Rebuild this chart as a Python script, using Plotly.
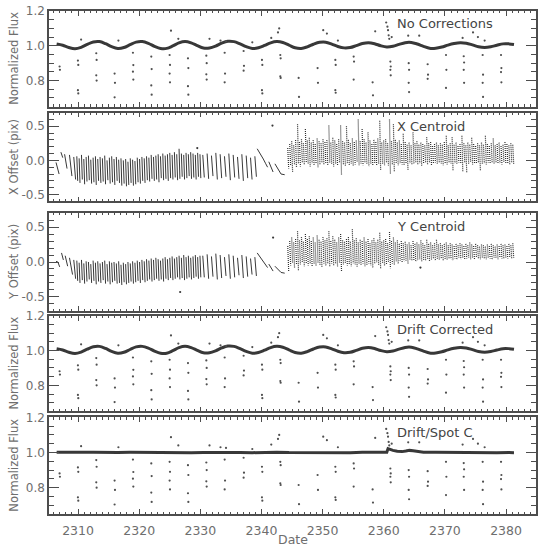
import plotly.graph_objects as go

# ------------------------------------------------------------------ data
# smooth light-curve band (no corrections / drift corrected), 1-day samples
flux_t = [2306.5 + k for k in range(75)] + [2381.3]
flux_raw = [1.010, 1.003, 0.990, 0.983, 0.991, 1.008, 1.022, 1.024, 1.012, 0.995,
            0.985, 0.990, 1.006, 1.021, 1.024, 1.014, 0.997, 0.985, 0.985, 0.999,
            1.017, 1.025, 1.017, 1.001, 0.987, 0.987, 0.998, 1.015, 1.026, 1.024,
            1.011, 0.995, 0.985, 0.989, 1.002, 1.017, 1.024, 1.019, 1.004, 0.989,
            0.985, 0.994, 1.009, 1.020, 1.021, 1.010, 0.996, 0.988, 0.990, 1.001,
            1.013, 1.018, 1.012, 1.000, 0.993, 0.997, 1.008, 1.018, 1.019, 1.010,
            0.997, 0.986, 0.986, 0.993, 1.004, 1.013, 1.018, 1.015, 1.005, 0.994,
            0.990, 0.994, 1.003, 1.011, 1.011, 1.008]
flux_drift = [1.010, 1.003, 0.990, 0.983, 0.991, 1.008, 1.022, 1.024, 1.012, 0.995,
              0.985, 0.990, 1.006, 1.021, 1.024, 1.014, 0.997, 0.985, 0.985, 0.999,
              1.017, 1.025, 1.017, 1.001, 0.987, 0.987, 0.998, 1.015, 1.026, 1.024,
              1.011, 0.995, 0.985, 0.989, 1.002, 1.017, 1.024, 1.019, 1.004, 0.989,
              0.985, 0.994, 1.009, 1.020, 1.021, 1.010, 0.996, 0.988, 0.990, 1.001,
              1.013, 1.018, 1.012, 1.000, 0.993, 0.997, 1.008, 1.018, 1.019, 1.010,
              0.997, 0.986, 0.986, 0.993, 1.004, 1.013, 1.018, 1.015, 1.005, 0.994,
              0.990, 0.994, 1.003, 1.011, 1.011, 1.008]

# drift + spot corrected band
spot_t = [2306.5, 2308.5, 2310.5, 2312.5, 2314.5, 2316.5, 2318.5, 2320.5, 2322.5, 2324.5,
          2326.5, 2328.5, 2330.5, 2332.5, 2334.5, 2336.5, 2338.5, 2340.5, 2342.5, 2344.5,
          2346.5, 2348.5, 2350.5, 2352.5, 2354.5, 2356.5, 2358.5, 2359.8, 2360.5, 2360.7,
          2361.0, 2361.5, 2362.2, 2363.0, 2363.6, 2364.2, 2364.8, 2365.6, 2366.5, 2368.5,
          2370.5, 2372.5, 2374.5, 2376.5, 2378.5, 2380.5, 2381.3]
spot_f = [1.002, 1.000, 1.001, 1.002, 0.999, 1.000, 1.001, 1.000, 0.999, 1.001,
          1.000, 0.999, 1.000, 1.001, 1.002, 1.000, 0.999, 1.001, 1.002, 1.000,
          0.999, 1.000, 1.001, 1.000, 0.999, 1.001, 1.002, 1.003, 1.001, 1.022,
          1.018, 1.012, 1.007, 1.005, 1.008, 1.012, 1.010, 1.005, 1.002, 1.001,
          1.000, 1.002, 1.001, 1.000, 0.999, 1.000, 0.999]

# low outliers, grouped in columns (same points in every flux panel)
low_t = [2307.0, 2310.0, 2313.0, 2316.0, 2319.0, 2322.0, 2325.0, 2328.0, 2331.0, 2334.0,
         2337.1, 2340.1, 2343.1, 2346.1, 2349.2, 2352.1, 2355.1, 2358.2, 2361.1, 2364.1,
         2367.2, 2370.2, 2373.1, 2376.2, 2379.2]
low_f = [[0.881, 0.862], [0.915, 0.890, 0.745, 0.726], [0.957, 0.919, 0.830, 0.800],
         [0.840, 0.787, 0.704], [0.960, 0.889, 0.851, 0.806], [0.938, 0.866, 0.772, 0.719],
         [0.947, 0.890, 0.840, 0.790], [0.928, 0.872, 0.768, 0.719], [0.943, 0.900, 0.836, 0.806],
         [0.960, 0.840, 0.790], [0.970, 0.885, 0.857], [0.919, 0.890, 0.745, 0.726],
         [0.947, 0.928, 0.825, 0.815], [0.815, 0.706], [0.872, 0.787],
         [0.919, 0.890, 0.745, 0.730], [0.938, 0.909, 0.806], [0.790, 0.715],
         [0.909, 0.881, 0.862, 0.830], [0.900, 0.862, 0.787, 0.734], [0.894, 0.834, 0.810],
         [0.947, 0.862, 0.758], [0.940, 0.904, 0.862, 0.787], [0.947, 0.834, 0.787, 0.706],
         [0.947, 0.872, 0.849, 0.790]]
# high outliers
high_t = [2310.5, 2316.6, 2325.2, 2326.4, 2331.5, 2333.3, 2334.2, 2338.5, 2341.6, 2342.7,
          2342.9, 2350.1, 2350.7, 2352.5, 2358.6, 2360.4, 2360.6, 2360.7, 2360.8, 2360.9,
          2361.3, 2364.0, 2365.8, 2372.9, 2374.6, 2375.4, 2376.5]
high_f = [1.036, 1.030, 1.087, 1.040, 1.040, 1.030, 1.026, 1.020, 1.045, 1.077,
          1.100, 1.090, 1.070, 1.030, 1.083, 1.134, 1.110, 1.090, 1.060, 1.040,
          1.050, 1.058, 1.058, 1.045, 1.077, 1.050, 1.030]

# ---- X centroid ----
# early hand-picked drift segments: (t0, y0, t1, y1)
xc_early = [(2306.4, -0.03, 2306.9, -0.20), (2307.2, 0.12, 2307.5, 0.04),
            (2307.8, 0.09, 2308.2, -0.12), (2308.6, 0.08, 2309.0, -0.23),
            (2309.3, 0.05, 2309.6, -0.28)]
dense_start, dense_step = 2309.8, 0.38
xc_top1 = [0.06, 0.03, 0.08, 0.02, 0.05, 0.07, 0.01, 0.04, 0.06, 0.02,
           0.05, 0.03, 0.07, 0.00, 0.04, 0.06, 0.02, 0.05, 0.01, 0.03,
           0.00, 0.02, -0.02, 0.03, 0.01, -0.01, 0.04, 0.02, 0.05, 0.03,
           0.06, 0.04, 0.08, 0.05, 0.07, 0.09, 0.06, 0.10, 0.07, 0.09,
           0.11, 0.08, 0.12, 0.09, 0.17, 0.10, 0.08, 0.11, 0.09, 0.12,
           0.10, 0.08, 0.11, 0.09]
xc_bot1 = [-0.30, -0.33, -0.28, -0.35, -0.31, -0.29, -0.34, -0.32, -0.36, -0.30,
           -0.33, -0.31, -0.35, -0.29, -0.34, -0.32, -0.36, -0.30, -0.33, -0.37,
           -0.34, -0.38, -0.36, -0.33, -0.37, -0.35, -0.32, -0.34, -0.30, -0.33,
           -0.29, -0.31, -0.27, -0.30, -0.28, -0.32, -0.26, -0.29, -0.27, -0.30,
           -0.26, -0.28, -0.25, -0.29, -0.27, -0.24, -0.28, -0.26, -0.23, -0.27,
           -0.25, -0.28, -0.24, -0.26]
sparse_start, sparse_step = 2330.4, 0.71
xc_top2 = [0.08, 0.10, 0.07, 0.11, 0.09, 0.06, 0.10, 0.08, 0.05, 0.09, 0.07, 0.04, 0.06]
xc_bot2 = [-0.25, -0.27, -0.23, -0.28, -0.26, -0.24, -0.29, -0.25, -0.27, -0.30, -0.26, -0.28, -0.24]
xc_curves = [[(2339.3, 0.17), (2339.8, 0.10), (2340.3, 0.02), (2340.7, -0.05), (2341.0, -0.10)],
             [(2341.2, -0.02), (2341.5, -0.08), (2341.9, -0.17)],
             [(2342.2, -0.05), (2342.7, -0.13), (2343.2, -0.20), (2343.8, -0.21)]]
late_start, late_step = 2344.3, 0.32
xc_top3 = [0.18, 0.24, 0.28, 0.22, 0.30, 0.53, 0.27, 0.31, 0.25, 0.46,
           0.29, 0.33, 0.26, 0.30, 0.24, 0.32, 0.28, 0.25, 0.31, 0.27,
           0.30, 0.51, 0.26, 0.33, 0.29, 0.24, 0.31, 0.51, 0.28, 0.26,
           0.50, 0.30, 0.25, 0.32, 0.27, 0.29, 0.60, 0.28, 0.46, 0.31,
           0.26, 0.41, 0.29, 0.24, 0.30, 0.27, 0.32, 0.58, 0.26, 0.29,
           0.31, 0.25, 0.60, 0.28, 0.53, 0.30, 0.26, 0.29, 0.24, 0.39,
           0.27, 0.23, 0.26, 0.22, 0.41, 0.25, 0.28, 0.23, 0.26, 0.24,
           0.22, 0.34, 0.25, 0.27, 0.21, 0.24, 0.26, 0.22, 0.25, 0.23,
           0.27, 0.36, 0.22, 0.25, 0.34, 0.23, 0.26, 0.21, 0.24, 0.36,
           0.25, 0.22, 0.26, 0.23, 0.33, 0.24, 0.21, 0.25, 0.22, 0.26,
           0.23, 0.36, 0.24, 0.21, 0.25, 0.32, 0.22, 0.24, 0.26, 0.21,
           0.23, 0.27, 0.24, 0.22, 0.25, 0.23]
xc_bot3 = [-0.12, -0.08, -0.17, -0.06, -0.10, -0.05, -0.09, -0.04, -0.07, -0.03,
           -0.06, -0.09, -0.04, -0.08, -0.05, -0.10, -0.06, -0.03, -0.07, -0.05,
           -0.08, -0.04, -0.06, -0.09, -0.05, -0.07, -0.03, -0.22, -0.06, -0.08,
           -0.04, -0.07, -0.05, -0.09, -0.06, -0.03, -0.08, -0.05, -0.07, -0.04,
           -0.06, -0.09, -0.05, -0.07, -0.04, -0.08, -0.06, -0.15, -0.05, -0.07,
           -0.04, -0.08, -0.20, -0.06, -0.17, -0.05, -0.07, -0.04, -0.06, -0.08,
           -0.05, -0.15, -0.04, -0.07, -0.05, -0.03, -0.06, -0.04, -0.08, -0.05,
           -0.03, -0.06, -0.04, -0.07, -0.05, -0.03, -0.06, -0.04, -0.05, -0.07,
           -0.04, -0.06, -0.03, -0.05, -0.15, -0.04, -0.06, -0.03, -0.05, -0.17,
           -0.04, -0.18, -0.05, -0.03, -0.06, -0.04, -0.05, -0.03, -0.15, -0.05,
           -0.04, -0.06, -0.03, -0.05, -0.04, -0.06, -0.03, -0.05, -0.04, -0.06,
           -0.03, -0.05, -0.04, -0.06, -0.03, -0.05]
xc_dots_t = [2341.8, 2329.5]
xc_dots_y = [0.51, 0.18]

# ---- Y centroid ----
yc_early = [(2306.4, 0.01, 2306.7, 0.00), (2306.7, 0.00, 2307.0, -0.07),
            (2307.3, 0.13, 2307.6, 0.03), (2307.9, 0.09, 2308.3, -0.06),
            (2308.6, 0.06, 2309.1, -0.18), (2309.3, 0.03, 2309.6, -0.24)]
yc_top1 = [0.02, -0.01, 0.03, -0.02, 0.01, 0.00, -0.03, 0.02, -0.01, 0.01,
           -0.02, 0.00, 0.02, -0.03, 0.01, -0.01, 0.00, -0.02, 0.01, -0.04,
           -0.01, -0.03, 0.00, -0.02, 0.01, -0.01, 0.02, 0.00, 0.03, 0.01,
           0.04, 0.02, 0.05, 0.03, 0.06, 0.04, 0.02, 0.05, 0.07, 0.04,
           0.06, 0.08, 0.05, 0.07, 0.09, 0.06, 0.10, 0.07, 0.09, 0.06,
           0.08, 0.10, 0.07, 0.09]
yc_bot1 = [-0.27, -0.30, -0.26, -0.31, -0.28, -0.25, -0.30, -0.27, -0.32, -0.28,
           -0.30, -0.26, -0.31, -0.28, -0.32, -0.29, -0.27, -0.31, -0.30, -0.33,
           -0.29, -0.32, -0.30, -0.28, -0.31, -0.29, -0.27, -0.30, -0.26, -0.29,
           -0.27, -0.25, -0.28, -0.26, -0.24, -0.27, -0.25, -0.28, -0.24, -0.26,
           -0.23, -0.26, -0.24, -0.22, -0.25, -0.23, -0.26, -0.24, -0.22, -0.25,
           -0.23, -0.21, -0.24, -0.22]
yc_top2 = [0.09, 0.11, 0.08, 0.12, 0.10, 0.07, 0.11, 0.09, 0.06, 0.10, 0.08, 0.05, 0.07]
yc_bot2 = [-0.22, -0.24, -0.21, -0.25, -0.23, -0.20, -0.24, -0.22, -0.19, -0.23, -0.21, -0.18, -0.20]
yc_curves = [[(2339.3, 0.13), (2339.8, 0.07), (2340.3, 0.01), (2340.7, -0.04), (2341.0, -0.08)],
             [(2341.2, -0.03), (2341.5, -0.08), (2341.9, -0.13)],
             [(2342.2, -0.06), (2342.7, -0.11), (2343.2, -0.15), (2343.8, -0.16)]]
yc_top3 = [0.23, 0.30, 0.35, 0.28, 0.33, 0.44, 0.31, 0.36, 0.29, 0.40,
           0.33, 0.37, 0.30, 0.35, 0.28, 0.38, 0.32, 0.29, 0.36, 0.31,
           0.34, 0.44, 0.30, 0.37, 0.32, 0.28, 0.35, 0.40, 0.31, 0.29,
           0.33, 0.36, 0.29, 0.47, 0.31, 0.34, 0.28, 0.32, 0.30, 0.35,
           0.29, 0.33, 0.27, 0.31, 0.34, 0.28, 0.32, 0.42, 0.29, 0.31,
           0.33, 0.27, 0.43, 0.30, 0.35, 0.28, 0.31, 0.26, 0.30, 0.27,
           0.29, 0.25, 0.28, 0.24, 0.30, 0.26, 0.28, 0.25, 0.31, 0.27,
           0.24, 0.32, 0.26, 0.28, 0.24, 0.27, 0.32, 0.25, 0.27, 0.24,
           0.26, 0.28, 0.24, 0.27, 0.25, 0.23, 0.26, 0.24, 0.27, 0.25,
           0.23, 0.26, 0.24, 0.28, 0.25, 0.23, 0.26, 0.24, 0.22, 0.25,
           0.24, 0.22, 0.25, 0.23, 0.26, 0.24, 0.22, 0.25, 0.23, 0.26,
           0.24, 0.25, 0.23, 0.26, 0.24, 0.27]
yc_bot3 = [-0.13, -0.05, -0.02, -0.08, -0.03, -0.13, -0.04, -0.01, -0.06, -0.03,
           -0.05, -0.02, -0.07, -0.03, -0.06, -0.01, -0.04, -0.08, -0.02, -0.05,
           -0.03, -0.06, -0.02, -0.05, -0.03, -0.07, -0.01, -0.13, -0.04, -0.02,
           -0.05, -0.03, -0.06, -0.02, -0.04, -0.07, -0.03, -0.05, -0.02, -0.06,
           -0.04, -0.02, -0.05, -0.08, -0.03, -0.01, -0.04, -0.10, -0.02, -0.05,
           -0.03, 0.00, -0.09, -0.02, -0.04, 0.01, -0.02, 0.02, -0.01, 0.01,
           0.02, -0.02, 0.03, 0.01, 0.03, 0.00, 0.02, 0.04, 0.01, 0.03,
           0.02, 0.04, 0.01, 0.03, 0.05, 0.02, 0.04, 0.03, 0.05, 0.02,
           0.04, 0.03, 0.05, 0.04, 0.02, 0.05, 0.03, 0.06, 0.04, 0.05,
           0.03, 0.05, 0.06, 0.04, 0.05, 0.03, 0.06, 0.05, 0.04, 0.06,
           0.05, 0.04, 0.06, 0.05, 0.03, 0.06, 0.05, 0.04, 0.06, 0.05,
           0.04, 0.06, 0.05, 0.07, 0.05, 0.06]
yc_dots_t = [2326.7, 2341.9, 2366.0]
yc_dots_y = [-0.43, 0.35, -0.08]

panel_labels = ["No Corrections", "X Centroid", "Y Centroid", "Drift Corrected", "Drift/Spot C"]
y_titles = ["Normalized Flux", "X Offset (pix)", "Y Offset (pix)", "Normalized Flux", "Normalized Flux"]
x_ticks = [2310, 2320, 2330, 2340, 2350, 2360, 2370, 2380]

# ------------------------------------------------------------------ helpers
INK = "#383838"
FRAME = "#4d4d4d"
TXT = "#6e6e6e"
FONT = "DejaVu Sans"


def seg_xy(early, tops1, bots1, tops2, bots2, curves, tops3, bots3):
    xs, ys = [], []
    for t0, y0, t1, y1 in early:
        xs += [t0, t1, None]
        ys += [y0, y1, None]
    for i, (a, b) in enumerate(zip(tops1, bots1)):
        t = dense_start + i * dense_step
        xs += [t, t + 0.14, None]
        ys += [a, b, None]
    for i, (a, b) in enumerate(zip(tops2, bots2)):
        t = sparse_start + i * sparse_step
        xs += [t, t + 0.25, None]
        ys += [a, b, None]
    for c in curves:
        xs += [p[0] for p in c] + [None]
        ys += [p[1] for p in c] + [None]
    lx, ly = [], []
    for i, (a, b) in enumerate(zip(tops3, bots3)):
        t = late_start + i * late_step
        lx += [t, t + 0.15, None]
        ly += [a, b, None]
    return xs, ys, lx, ly


low_x, low_y = [], []
for t, col in zip(low_t, low_f):
    for j, v in enumerate(col):
        low_x.append(t + (0.04 if j % 2 else -0.02))
        low_y.append(v)

fig = go.Figure()


def add_flux(ax, t, f, shape):
    xa, ya = ("x" if ax == 1 else f"x{ax}"), ("y" if ax == 1 else f"y{ax}")
    fig.add_trace(go.Scatter(x=t, y=f, mode="lines", line=dict(color=INK, width=3.0, shape=shape),
                             xaxis=xa, yaxis=ya, hoverinfo="skip"))
    fig.add_trace(go.Scatter(x=low_x + high_t, y=low_y + high_f, mode="markers",
                             marker=dict(color="#505050", size=2.2), xaxis=xa, yaxis=ya, hoverinfo="skip"))


def add_centroid(ax, data, dots_t, dots_y):
    xa, ya = f"x{ax}", f"y{ax}"
    xs, ys, lx, ly = seg_xy(*data)
    fig.add_trace(go.Scatter(x=xs, y=ys, mode="lines", line=dict(color=INK, width=1.0),
                             connectgaps=False, xaxis=xa, yaxis=ya, hoverinfo="skip"))
    fig.add_trace(go.Scatter(x=lx, y=ly, mode="lines", line=dict(color="#303030", width=1.2, dash="1px,1px"),
                             connectgaps=False, xaxis=xa, yaxis=ya, hoverinfo="skip"))
    fig.add_trace(go.Scatter(x=dots_t, y=dots_y, mode="markers", marker=dict(color=INK, size=2.2),
                             xaxis=xa, yaxis=ya, hoverinfo="skip"))


add_flux(1, flux_t, flux_raw, "spline")
add_centroid(2, (xc_early, xc_top1, xc_bot1, xc_top2, xc_bot2, xc_curves, xc_top3, xc_bot3),
             xc_dots_t, xc_dots_y)
add_centroid(3, (yc_early, yc_top1, yc_bot1, yc_top2, yc_bot2, yc_curves, yc_top3, yc_bot3),
             yc_dots_t, yc_dots_y)
add_flux(4, flux_t, flux_drift, "spline")
add_flux(5, spot_t, spot_f, "linear")

# ------------------------------------------------------------------ layout
W, Hh = 542, 546
L, R, TOP, BOT = 49, 6, 4, 32
PH = Hh - TOP - BOT
panels = [(4, 101), (107, 197), (209, 308), (313, 410), (416, 514)]
doms = [[(Hh - BOT - b) / PH, (Hh - BOT - t) / PH] for t, b in panels]
yranges = [[0.65, 1.2], [-0.6, 0.7], [-0.7, 0.7], [0.65, 1.2], [0.65, 1.2]]

layout = dict(width=W, height=Hh, margin=dict(l=L, r=R, t=TOP, b=BOT),
              paper_bgcolor="white", plot_bgcolor="white", showlegend=False,
              font=dict(family=FONT, color=TXT, size=12))
annotations = []
for i in range(5):
    k = "" if i == 0 else str(i + 1)
    flux = i in (0, 3, 4)
    layout["xaxis" + k] = dict(
        domain=[0, 1], range=[2305.25, 2384.9], anchor="y" + k,
        showline=True, mirror="ticks", linecolor=FRAME, linewidth=1.5,
        ticks="inside", ticklen=5, tickwidth=1, tickcolor=FRAME,
        tickvals=x_ticks, ticktext=[str(v) for v in x_ticks],
        minor=dict(dtick=1, tick0=2305, ticklen=2.5, ticks="inside", tickcolor=FRAME, tickwidth=1),
        showgrid=False, zeroline=False, showticklabels=(i == 4),
        tickfont=dict(family=FONT, size=12.5, color=TXT), ticklabelstandoff=4,
        **({} if i == 0 else dict(matches="x")))
    layout["yaxis" + k] = dict(
        domain=doms[i], range=yranges[i], anchor="x" + k,
        showline=True, mirror="ticks", linecolor=FRAME, linewidth=1.5,
        ticks="inside", ticklen=10, tickwidth=1, tickcolor=FRAME,
        tickvals=[0.8, 1.0, 1.2] if flux else [-0.5, 0.0, 0.5],
        ticktext=["0.8", "1.0", "1.2"] if flux else ["-0.5", "0.0", "0.5"],
        minor=dict(dtick=0.05 if flux else 0.1, tick0=0, ticklen=5, ticks="inside",
                   tickcolor=FRAME, tickwidth=1),
        showgrid=False, zeroline=False,
        tickfont=dict(family=FONT, size=12, color=TXT))
    ymid = (doms[i][0] + doms[i][1]) / 2
    annotations.append(dict(text=y_titles[i], xref="paper", yref="paper", x=(14 - L) / (W - L - R),
                            y=ymid, xanchor="center", yanchor="middle", textangle=-90, showarrow=False,
                            font=dict(family=FONT, size=11.5, color=TXT)))
    label_y = [17, 121, 223, 327, 431][i]
    annotations.append(dict(text=panel_labels[i], xref="paper", yref="paper",
                            x=(395 - L) / (W - L - R), y=(Hh - BOT - label_y) / PH,
                            xanchor="left", yanchor="middle", showarrow=False,
                            font=dict(family=FONT, size=13, color="#444444")))
annotations.append(dict(text="Date", xref="paper", yref="paper", x=0.5, y=(Hh - BOT - 540) / PH,
                        xanchor="center", yanchor="middle", showarrow=False,
                        font=dict(family=FONT, size=12.5, color=TXT)))
layout["annotations"] = annotations
fig.update_layout(**layout)

fig.write_html("out.html")
